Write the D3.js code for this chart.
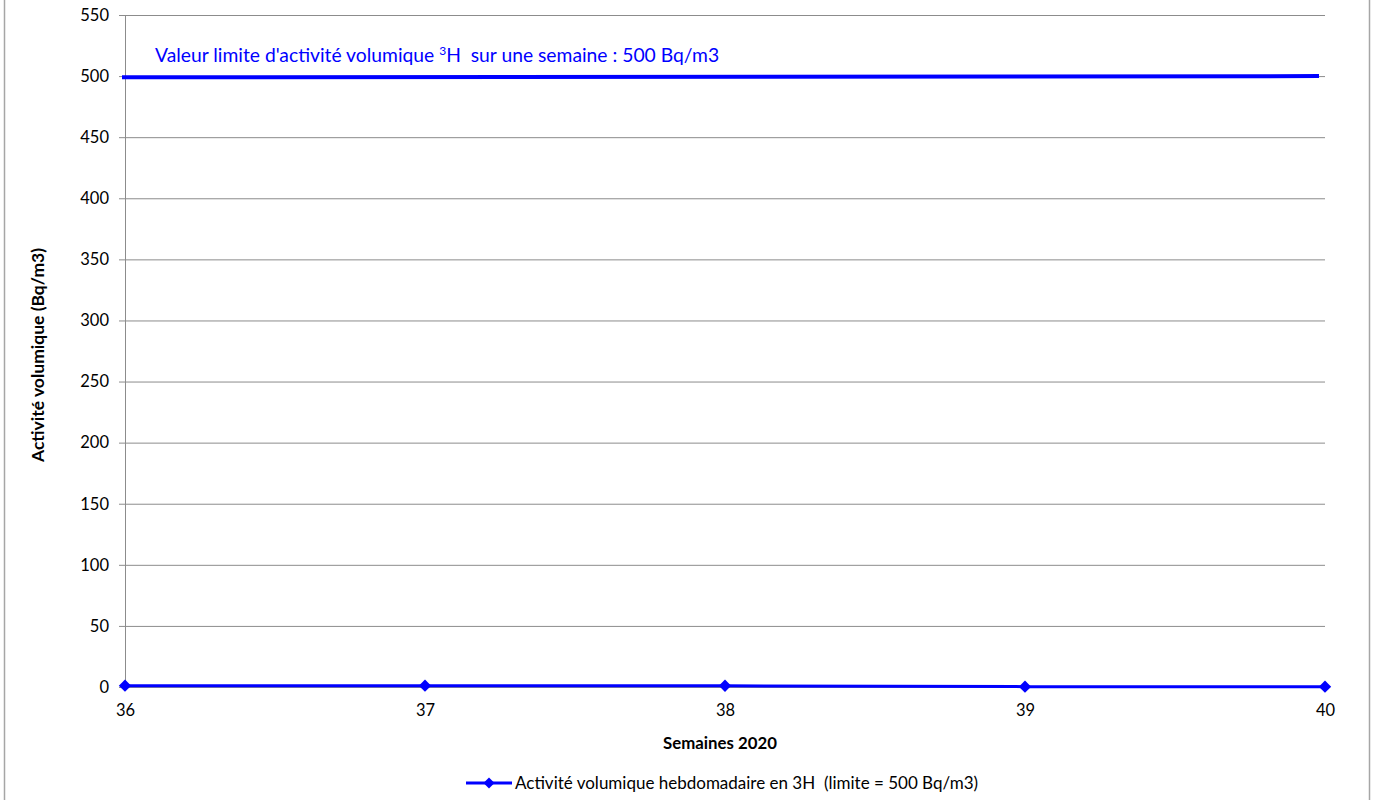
<!DOCTYPE html>
<html><head><meta charset="utf-8">
<script src="https://cdn.jsdelivr.net/npm/d3@7"></script>
<style>body{margin:0;background:#fff}svg{display:block}text{font-family:Lato,"Open Sans",sans-serif;white-space:pre}</style>
</head><body>
<svg id="c" width="1376" height="800"></svg>
<script>
const weeks = [36, 37, 38, 39, 40];
const activity = [1.1, 1.1, 1.0, 0.3, 0.3];
const limitWeeks = [35.99, 39.98];
const limitValues = [499, 500];
const yTicks = [0, 50, 100, 150, 200, 250, 300, 350, 400, 450, 500, 550];
const xTicks = [36, 37, 38, 39, 40];
const seriesName = "Activité volumique hebdomadaire en 3H  (limite = 500 Bq/m3)";
const yTitle = "Activité volumique (Bq/m3)";
const xTitle = "Semaines 2020";

const svg = d3.select("#c");
const blue = "#0000ff";
const grid = "#8c8c8c";
const m = {left:125, right:1325, top:15, bottom:687};
const x = d3.scaleLinear().domain([36,40]).range([m.left, m.right]);
const y = d3.scaleLinear().domain([0,550]).range([m.bottom, m.top]);

svg.append("rect").attr("x",4.5).attr("y",-5).attr("width",1365).attr("height",810)
  .attr("fill","#fff").attr("stroke","#a6a6a6").attr("stroke-width",1.5);

// gridlines + y axis
const yAxis = d3.axisLeft(y).tickValues(yTicks).tickSize(-(m.right-m.left)).tickPadding(16);
const gy = svg.append("g").attr("transform",`translate(${m.left},0)`).call(yAxis);
gy.select(".domain").remove();
gy.selectAll(".tick line").attr("stroke",grid).attr("x1",-6);
gy.selectAll(".tick text").attr("font-size",16.5).attr("fill","#000");

svg.append("line").attr("x1",m.left+0.5).attr("x2",m.left+0.5).attr("y1",m.top).attr("y2",m.bottom)
  .attr("stroke",grid);

const xAxis = d3.axisBottom(x).tickValues(xTicks).tickSize(0).tickPadding(17).tickFormat(d3.format("d"));
const gx = svg.append("g").attr("transform",`translate(0,${m.bottom})`).call(xAxis);
gx.select(".domain").attr("stroke",grid);
gx.selectAll(".tick text").attr("font-size",16.5).attr("fill","#000");

// limit line
const limitData = limitWeeks.map((w,i)=>({w, v:limitValues[i]}));
svg.append("path").datum(limitData)
  .attr("d", d3.line().x(d=>x(d.w)).y(d=>y(d.v)))
  .attr("stroke",blue).attr("stroke-width",4).attr("fill","none");

const ann = svg.append("text").attr("x",155).attr("y",62).attr("fill",blue).attr("font-size",19.3);
ann.append("tspan").text("Valeur limite d'activité volumique ");
ann.append("tspan").text("3").attr("font-size",12).attr("dy",-7);
ann.append("tspan").text("H  sur une semaine : 500 Bq/m3").attr("dy",7);

// series
const data = weeks.map((w,i)=>({w, v:activity[i]}));
svg.append("path").datum(data)
  .attr("d", d3.line().x(d=>x(d.w)).y(d=>y(d.v)))
  .attr("stroke",blue).attr("stroke-width",3).attr("fill","none");
svg.selectAll(".pt").data(data).join("path")
  .attr("d", d3.symbol().type(d3.symbolSquare).size(76)())
  .attr("transform",d=>`translate(${x(d.w)},${y(d.v)}) rotate(45)`)
  .attr("fill",blue);

// titles
svg.append("text").attr("x",720).attr("y",749).attr("text-anchor","middle")
  .attr("font-size",16.8).attr("font-weight","bold").text(xTitle);
svg.append("text").attr("transform","translate(44,355) rotate(-90)").attr("text-anchor","middle")
  .attr("font-size",17.5).attr("font-weight","bold").text(yTitle);

// legend
svg.append("line").attr("x1",466).attr("x2",512).attr("y1",783).attr("y2",783)
  .attr("stroke",blue).attr("stroke-width",3);
svg.append("path").attr("d", d3.symbol().type(d3.symbolSquare).size(60)())
  .attr("transform","translate(489,783) rotate(45)").attr("fill",blue);
svg.append("text").attr("x",515).attr("y",789).attr("font-size",17).text(seriesName);
</script>
</body></html>
